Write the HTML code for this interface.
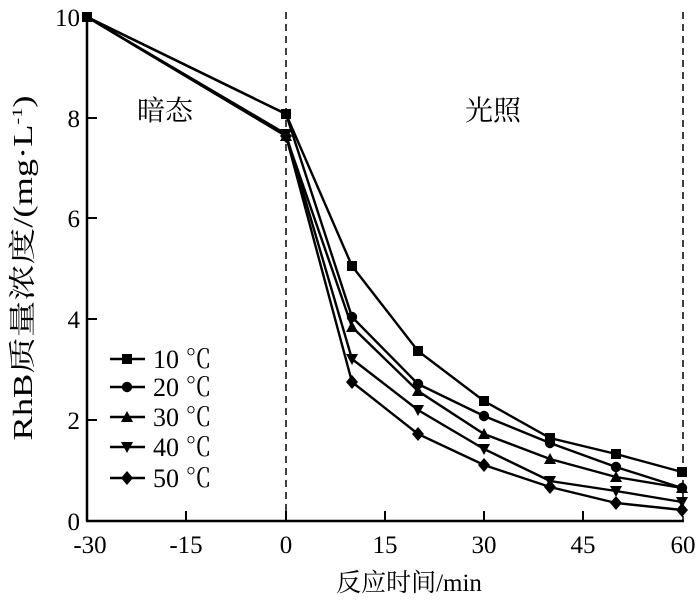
<!DOCTYPE html>
<html><head><meta charset="utf-8"><style>
body{margin:0;background:#fff}
svg{display:block;font-family:"Liberation Serif","Noto Serif CJK SC",serif}
</style></head><body>
<svg width="700" height="601" viewBox="0 0 700 601">
<g stroke="#000" fill="none">
<line x1="87" y1="15" x2="87" y2="521" stroke-width="2.5"/>
<line x1="86" y1="521" x2="684" y2="521" stroke-width="2.5"/>
<line x1="286" y1="12" x2="286" y2="520" stroke-width="1.5" stroke-dasharray="7,5"/>
<line x1="683" y1="12" x2="683" y2="520" stroke-width="1.5" stroke-dasharray="7,5"/>
<g stroke-width="2">
<line x1="186" y1="521" x2="186" y2="511"/><line x1="286" y1="521" x2="286" y2="511"/>
<line x1="385" y1="521" x2="385" y2="511"/><line x1="484" y1="521" x2="484" y2="511"/>
<line x1="583" y1="521" x2="583" y2="511"/>
<line x1="87" y1="420" x2="97" y2="420"/><line x1="87" y1="319" x2="97" y2="319"/>
<line x1="87" y1="218" x2="97" y2="218"/><line x1="87" y1="118" x2="97" y2="118"/>
</g>
</g>
<g font-size="25" text-anchor="end">
<text x="80" y="530">0</text><text x="80" y="429">2</text><text x="80" y="328">4</text>
<text x="80" y="227">6</text><text x="80" y="127">8</text><text x="80" y="26">10</text>
</g>
<g font-size="25" text-anchor="middle">
<text x="90" y="553">-30</text><text x="186" y="553">-15</text><text x="286" y="553">0</text>
<text x="385" y="553">15</text><text x="484" y="553">30</text><text x="583" y="553">45</text><text x="683" y="553">60</text>
<text x="409" y="591">反应时间/min</text>
<text x="165" y="120" font-size="28">暗态</text><text x="493" y="120" font-size="28">光照</text>
</g>
<text font-size="27" text-anchor="middle" transform="translate(32,268) rotate(-90)" textLength="345" lengthAdjust="spacingAndGlyphs">RhB质量浓度/(mg·L<tspan font-size="15" dy="-10">-1</tspan><tspan dy="10">)</tspan></text>
<defs>
<rect id="sq" x="-5" y="-5" width="10" height="10" fill="#000"/>
<circle id="ci" r="5.2" fill="#000"/>
<polygon id="tu" points="0,-6 6,5 -6,5" fill="#000"/>
<polygon id="td" points="0,6 6,-5 -6,-5" fill="#000"/>
<polygon id="di" points="0,-7 6,0 0,7 -6,0" fill="#000"/>
</defs>
<g stroke="#000" stroke-width="2.4" fill="none">
<polyline points="87,17 286,114 352,266 418,351 484,401 550,438 616,454 682,472"/>
<polyline points="87,17 286,114 352,317 418,384 484,416 550,443 616,467 682,488"/>
<polyline points="87,17 286,136 352,327 418,391 484,434 550,459 616,477 682,488"/>
<polyline points="87,17 286,134 352,359 418,410 484,449 550,481 616,491 682,502"/>
<polyline points="87,17 286,136 352,382 418,434 484,465 550,487 616,503 682,510"/>
</g>
<g>
<use href="#sq" x="87" y="17"/>
<use href="#sq" x="286" y="114"/><use href="#sq" x="352" y="266"/><use href="#sq" x="418" y="351"/><use href="#sq" x="484" y="401"/><use href="#sq" x="550" y="438"/><use href="#sq" x="616" y="454"/><use href="#sq" x="682" y="472"/>
<use href="#ci" x="286" y="114"/><use href="#ci" x="352" y="317"/><use href="#ci" x="418" y="384"/><use href="#ci" x="484" y="416"/><use href="#ci" x="550" y="443"/><use href="#ci" x="616" y="467"/><use href="#ci" x="682" y="488"/>
<use href="#tu" x="286" y="136"/><use href="#tu" x="352" y="327"/><use href="#tu" x="418" y="391"/><use href="#tu" x="484" y="434"/><use href="#tu" x="550" y="459"/><use href="#tu" x="616" y="477"/><use href="#tu" x="682" y="488"/>
<use href="#td" x="286" y="134"/><use href="#td" x="352" y="359"/><use href="#td" x="418" y="410"/><use href="#td" x="484" y="449"/><use href="#td" x="550" y="481"/><use href="#td" x="616" y="491"/><use href="#td" x="682" y="502"/>
<use href="#di" x="286" y="136"/><use href="#di" x="352" y="382"/><use href="#di" x="418" y="434"/><use href="#di" x="484" y="465"/><use href="#di" x="550" y="487"/><use href="#di" x="616" y="503"/><use href="#di" x="682" y="510"/>
</g>
<g stroke="#000" stroke-width="2.4">
<line x1="110" y1="359" x2="145" y2="359"/><line x1="110" y1="387" x2="145" y2="387"/>
<line x1="110" y1="417" x2="145" y2="417"/><line x1="110" y1="447" x2="145" y2="447"/>
<line x1="110" y1="478" x2="145" y2="478"/>
</g>
<use href="#sq" x="127" y="359"/><use href="#ci" x="127" y="387"/><use href="#tu" x="127" y="417"/><use href="#td" x="127" y="447"/><use href="#di" x="127" y="478"/>
<g font-size="26">
<text x="153" y="368">10 ℃</text><text x="153" y="396">20 ℃</text><text x="153" y="426">30 ℃</text>
<text x="153" y="456">40 ℃</text><text x="153" y="487">50 ℃</text>
</g>
</svg>
</body></html>
